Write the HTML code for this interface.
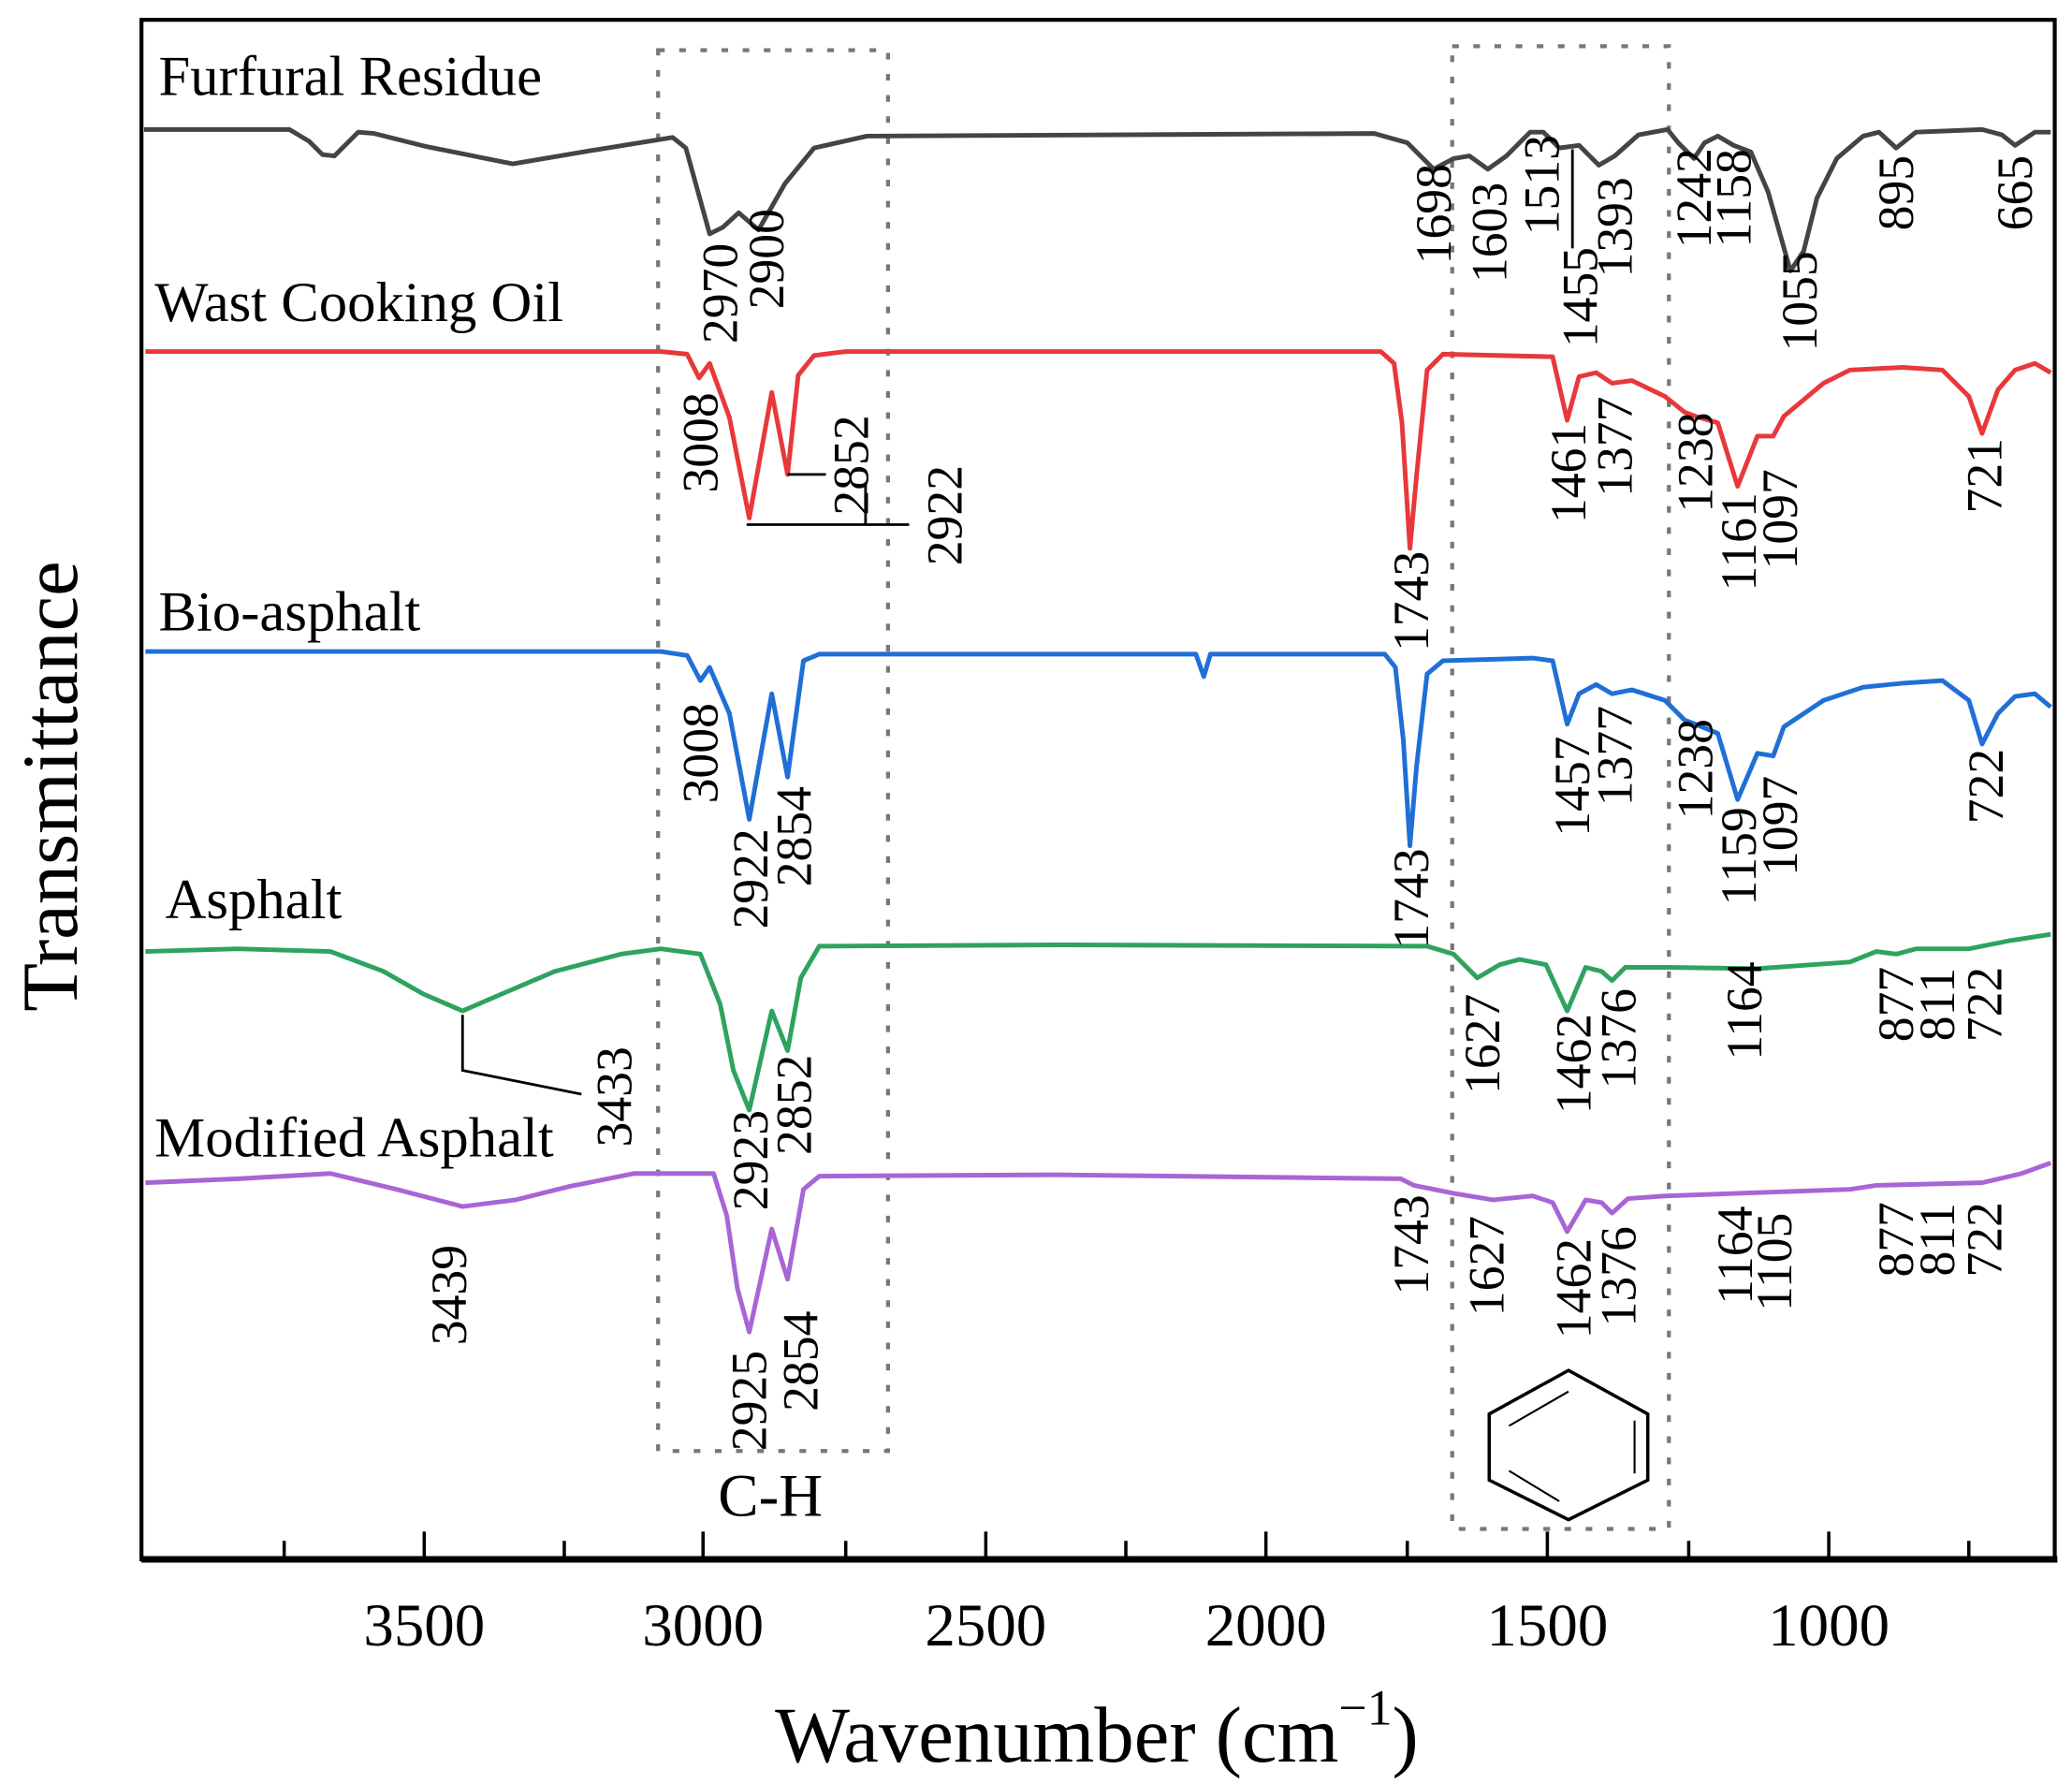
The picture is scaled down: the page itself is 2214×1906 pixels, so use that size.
<!DOCTYPE html>
<html><head><meta charset="utf-8"><style>
html,body{margin:0;padding:0;background:#fff}
svg{display:block}
text{font-family:"Liberation Serif",serif;fill:#000}
.lb{font-size:38px}
.nm{font-size:43px}
</style></head><body>
<svg width="2214" height="1906" viewBox="0 0 1568 1350" xmlns="http://www.w3.org/2000/svg">
<rect width="1568" height="1350" fill="#fff"/>
<rect x="498" y="38" width="174" height="1060" fill="none" stroke="#777" stroke-width="3" stroke-dasharray="5,11"/>
<rect x="1099" y="35" width="164" height="1122" fill="none" stroke="#777" stroke-width="3" stroke-dasharray="5,11"/>
<polygon points="1187,1037 1247,1070 1247,1120 1187,1150 1127,1120 1127,1070" fill="none" stroke="#000" stroke-width="2.5"/>
<line x1="1142" y1="1079" x2="1187" y2="1053" stroke="#000" stroke-width="1.5"/>
<line x1="1237" y1="1075" x2="1237" y2="1115" stroke="#000" stroke-width="1.5"/>
<line x1="1142" y1="1113" x2="1180" y2="1136" stroke="#000" stroke-width="1.5"/>
<g fill="none" stroke-width="3.5" stroke-linejoin="round">
<polyline stroke="#444" points="109,98 219,98 234,107 244,117 253,118 271,100 283,101 323,111 388,124 447,114 509,104 519,112 537,177 547,172 559,161 574,174 594,139 616,112 656,103 1040,101 1065,108 1085,128 1100,120 1112,118 1126,128 1140,118 1158,100 1168,100 1180,112 1195,110 1210,125 1222,118 1240,102 1262,98 1270,108 1282,120 1290,108 1300,103 1312,110 1325,115 1338,145 1355,205 1365,190 1375,150 1390,120 1410,103 1422,100 1435,112 1450,100 1500,98 1515,102 1525,110 1540,100 1552,100"/>
<polyline stroke="#e8383a" points="110,266 500,266 520,268 529,286 537,275 552,316 567,392 584,297 596,359 604,284 616,269 640,266 1045,266 1055,275 1061,320 1067,415 1072,360 1080,280 1092,268 1175,270 1186,318 1195,285 1208,282 1220,290 1235,288 1260,300 1275,312 1283,315 1300,320 1315,368 1330,330 1342,330 1350,315 1380,290 1400,280 1440,278 1470,280 1490,300 1500,328 1512,295 1525,280 1540,275 1552,282"/>
<polyline stroke="#1f6fd6" points="110,493 500,493 520,496 530,515 537,505 552,540 567,620 584,525 596,588 608,500 620,495 905,495 911,512 916,495 1048,495 1056,505 1062,560 1067,640 1072,580 1080,510 1092,500 1160,498 1175,500 1186,548 1195,525 1208,518 1220,525 1235,522 1260,530 1275,545 1283,548 1300,555 1315,605 1330,570 1342,572 1350,550 1380,530 1410,520 1440,517 1470,515 1490,530 1500,563 1512,540 1525,527 1540,525 1552,535"/>
<polyline stroke="#2ea35f" points="110,720 180,718 250,720 290,735 320,752 350,765 380,752 420,735 470,722 500,718 530,722 545,760 555,810 567,840 584,765 596,795 606,740 620,716 800,715 1080,716 1100,722 1118,740 1135,730 1150,726 1170,730 1186,765 1200,732 1212,735 1220,742 1230,732 1260,732 1330,733 1400,728 1420,720 1435,722 1450,718 1490,718 1520,712 1552,707"/>
<polyline stroke="#a865d6" points="110,895 180,892 250,888 300,900 350,913 390,908 430,898 480,888 540,888 550,920 558,975 567,1008 584,930 596,968 608,900 620,890 800,889 1060,892 1070,897 1100,903 1130,908 1160,905 1175,910 1186,932 1200,908 1212,910 1220,918 1232,907 1260,905 1400,900 1420,897 1500,895 1530,888 1552,880"/>
</g>
<g stroke="#000" stroke-width="2" fill="none">
<line x1="1190" y1="113" x2="1190" y2="188"/>
<polyline points="596,359 625,359"/>
<polyline points="565,397 688,397"/>
<line x1="655" y1="365" x2="655" y2="397"/>
<polyline points="350,768 350,810 440,828"/>
</g>
<rect x="107" y="15" width="1448" height="1165" fill="none" stroke="#000" stroke-width="3"/>
<line x1="107" y1="1180" x2="1557" y2="1180" stroke="#000" stroke-width="5"/>
<g stroke="#000" stroke-width="2.5">
<line x1="321" y1="1180" x2="321" y2="1159"/><line x1="532" y1="1180" x2="532" y2="1159"/><line x1="746" y1="1180" x2="746" y2="1159"/><line x1="958" y1="1180" x2="958" y2="1159"/><line x1="1171" y1="1180" x2="1171" y2="1159"/><line x1="1384" y1="1180" x2="1384" y2="1159"/>
<line x1="215" y1="1180" x2="215" y2="1166"/><line x1="427" y1="1180" x2="427" y2="1166"/><line x1="640" y1="1180" x2="640" y2="1166"/><line x1="852" y1="1180" x2="852" y2="1166"/><line x1="1065" y1="1180" x2="1065" y2="1166"/><line x1="1278" y1="1180" x2="1278" y2="1166"/><line x1="1490" y1="1180" x2="1490" y2="1166"/>
</g>
<g font-size="46" text-anchor="middle">
<text x="321" y="1245">3500</text><text x="532" y="1245">3000</text><text x="746" y="1245">2500</text><text x="958" y="1245">2000</text><text x="1171" y="1245">1500</text><text x="1384" y="1245">1000</text>
</g>
<text x="830" y="1333" font-size="60" text-anchor="middle">Wavenumber (cm<tspan dy="-28" font-size="38">−1</tspan><tspan dy="28">)</tspan></text>
<text transform="translate(58,595) rotate(-90)" font-size="60" text-anchor="middle">Transmittance</text>
<text x="583" y="1147" font-size="46" text-anchor="middle">C-H</text>
<text class="nm" x="120" y="72">Furfural Residue</text>
<text class="nm" x="117" y="243">Wast Cooking Oil</text>
<text class="nm" x="120" y="477">Bio-asphalt</text>
<text class="nm" x="125" y="695">Asphalt</text>
<text class="nm" x="117" y="875">Modified Asphalt</text>
<g class="lb" text-anchor="middle" dominant-baseline="central">
<text transform="translate(545,222) rotate(-90)">2970</text>
<text transform="translate(580,196) rotate(-90)">2900</text>
<text transform="translate(1085,162) rotate(-90)">1698</text>
<text transform="translate(1127,176) rotate(-90)">1603</text>
<text transform="translate(1167,140) rotate(-90)">1513</text>
<text transform="translate(1196,225) rotate(-90)">1455</text>
<text transform="translate(1222,172) rotate(-90)">1393</text>
<text transform="translate(1282,150) rotate(-90)">1242</text>
<text transform="translate(1312,150) rotate(-90)">1158</text>
<text transform="translate(1362,228) rotate(-90)">1055</text>
<text transform="translate(1435,146) rotate(-90)">895</text>
<text transform="translate(1525,146) rotate(-90)">665</text>

<text transform="translate(530,335) rotate(-90)">3008</text>
<text transform="translate(644,352) rotate(-90)">2852</text>
<text transform="translate(715,390) rotate(-90)">2922</text>
<text transform="translate(1068,455) rotate(-90)">1743</text>
<text transform="translate(1187,358) rotate(-90)">1461</text>
<text transform="translate(1222,338) rotate(-90)">1377</text>
<text transform="translate(1283,350) rotate(-90)">1238</text>
<text transform="translate(1316,410) rotate(-90)">1161</text>
<text transform="translate(1347,393) rotate(-90)">1097</text>
<text transform="translate(1502,360) rotate(-90)">721</text>

<text transform="translate(530,570) rotate(-90)">3008</text>
<text transform="translate(568,665) rotate(-90)">2922</text>
<text transform="translate(601,633) rotate(-90)">2854</text>
<text transform="translate(1068,680) rotate(-90)">1743</text>
<text transform="translate(1190,595) rotate(-90)">1457</text>
<text transform="translate(1222,572) rotate(-90)">1377</text>
<text transform="translate(1283,582) rotate(-90)">1238</text>
<text transform="translate(1316,648) rotate(-90)">1159</text>
<text transform="translate(1347,625) rotate(-90)">1097</text>
<text transform="translate(1503,595) rotate(-90)">722</text>

<text transform="translate(465,830) rotate(-90)">3433</text>
<text transform="translate(568,878) rotate(-90)">2923</text>
<text transform="translate(601,836) rotate(-90)">2852</text>
<text transform="translate(1122,790) rotate(-90)">1627</text>
<text transform="translate(1191,805) rotate(-90)">1462</text>
<text transform="translate(1225,786) rotate(-90)">1376</text>
<text transform="translate(1320,765) rotate(-90)">1164</text>
<text transform="translate(1435,760) rotate(-90)">877</text>
<text transform="translate(1466,760) rotate(-90)">811</text>
<text transform="translate(1502,760) rotate(-90)">722</text>

<text transform="translate(340,980) rotate(-90)">3439</text>
<text transform="translate(567,1060) rotate(-90)">2925</text>
<text transform="translate(606,1030) rotate(-90)">2854</text>
<text transform="translate(1068,942) rotate(-90)">1743</text>
<text transform="translate(1125,958) rotate(-90)">1627</text>
<text transform="translate(1191,975) rotate(-90)">1462</text>
<text transform="translate(1225,966) rotate(-90)">1376</text>
<text transform="translate(1313,950) rotate(-90)">1164</text>
<text transform="translate(1343,955) rotate(-90)">1105</text>
<text transform="translate(1435,938) rotate(-90)">877</text>
<text transform="translate(1466,938) rotate(-90)">811</text>
<text transform="translate(1502,938) rotate(-90)">722</text>
</g>
</svg>
</body></html>
